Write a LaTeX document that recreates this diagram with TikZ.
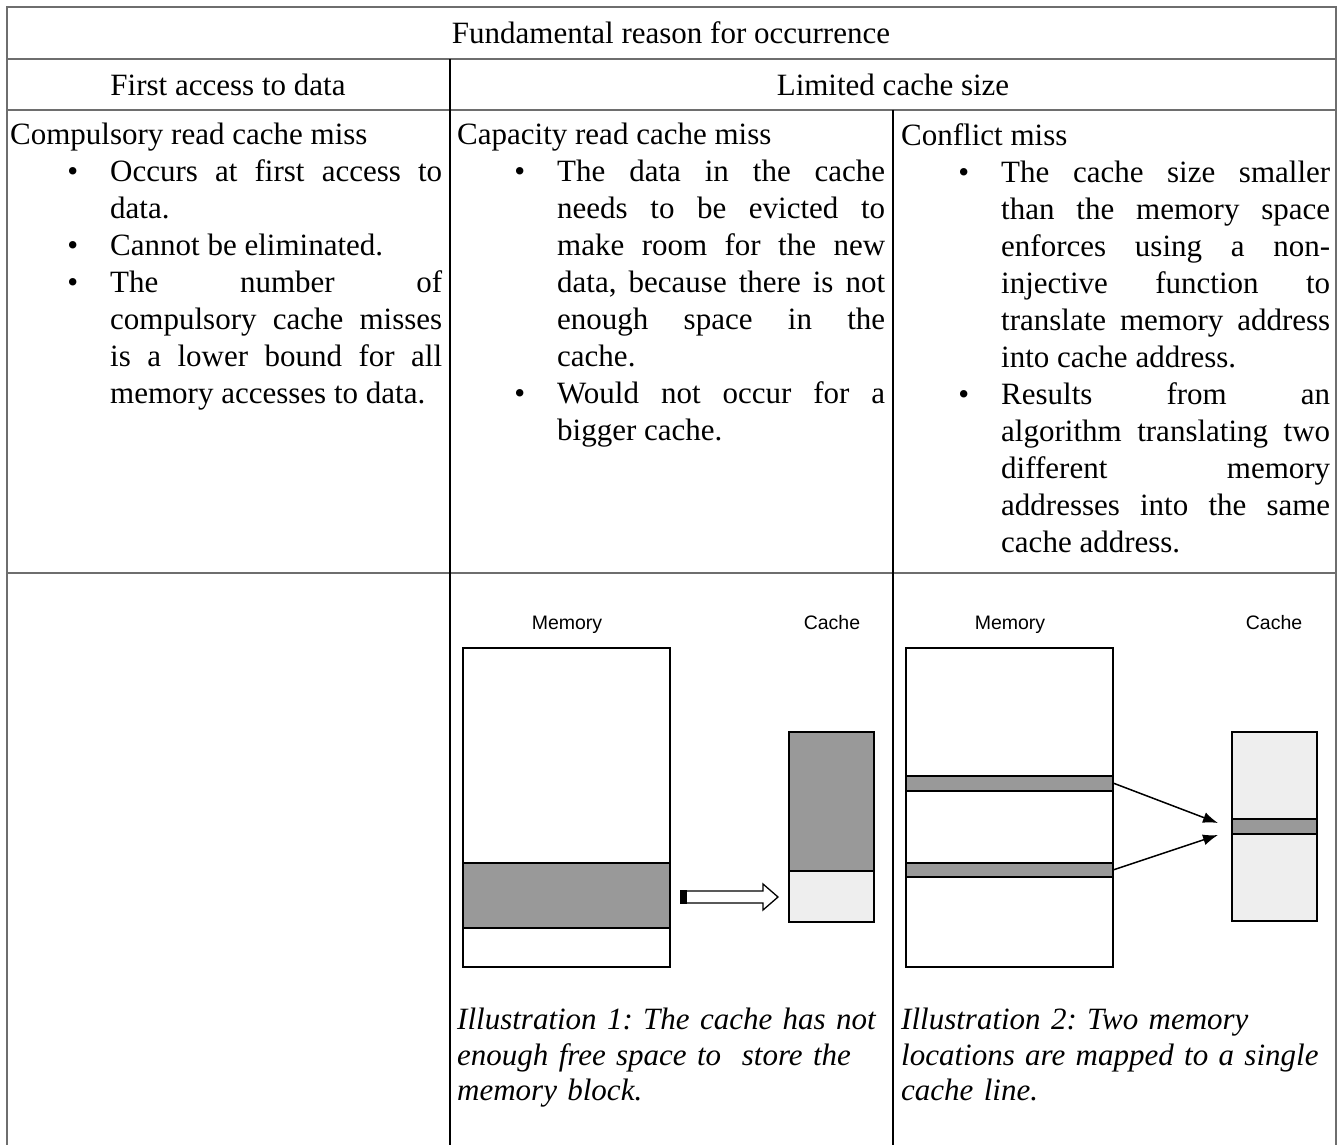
\documentclass[tikz,border=0pt]{standalone}
\usepackage{fontspec}
\setmainfont{Liberation Serif}
\setsansfont{Liberation Sans}
\usetikzlibrary{arrows.meta}

\definecolor{rulegray}{HTML}{6E6E6E}
\definecolor{blockgray}{HTML}{999999}
\definecolor{freegray}{HTML}{EEEEEE}

\newcommand{\bodyfont}{\fontsize{31}{37}\selectfont\frenchspacing}
\newcommand{\capfont}{\fontsize{31}{35.6}\selectfont\frenchspacing\itshape}
\newcommand{\figfont}{\sffamily\fontsize{19.5}{22}\selectfont}
\newenvironment{missbullets}{%
  \begin{list}{\textbullet}{\setlength{\leftmargin}{100pt}%
    \setlength{\labelwidth}{20pt}\setlength{\labelsep}{32pt}%
    \setlength{\itemsep}{0pt}\setlength{\parsep}{0pt}%
    \setlength{\topsep}{0pt}\setlength{\partopsep}{0pt}}%
  \tolerance=10000\hbadness=10000}{\end{list}}

\begin{document}
\begin{tikzpicture}[x=1pt,y=-1pt,
  rule/.style={line width=1.6pt,draw=rulegray},
  colrule/.style={line width=1.6pt,draw=black},
  headtext/.style={inner sep=0pt,font=\bodyfont},
  celltext/.style={anchor=north west,inner sep=0pt,align=justify,font=\bodyfont},
  captext/.style={anchor=north west,inner sep=0pt,align=left,text width=430pt,font=\capfont},
  figlabel/.style={anchor=base,inner sep=0pt,font=\figfont},
  box/.style={draw=black,line width=1.4pt},
  maparrow/.style={line width=1.5pt,-{Latex[length=15pt,width=11pt]}}]
\useasboundingbox (0,0) rectangle (1341,1145);

% table rules
\draw[rule] (7,1145) -- (7,7) -- (1336,7) -- (1336,1145);
\draw[rule] (7,59) -- (1336,59);
\draw[rule] (7,110) -- (1336,110);
\draw[rule] (7,573) -- (1336,573);
\draw[colrule] (450,59) -- (450,1145);
\draw[colrule] (893,110) -- (893,1145);

% header rows
\node[headtext] (reason) at (671,33) {Fundamental reason for occurrence};
\node[headtext] (firstacc) at (228,85) {First access to data};
\node[headtext] (limited) at (893,85) {Limited cache size};

% kinds of misses
\node[celltext,text width=432pt] (compulsory) at (10,123) {Compulsory read cache miss
\begin{missbullets}
\item Occurs at first access to\linebreak data.
\item Cannot be eliminated.
\item The number of\linebreak compulsory cache misses\linebreak is a lower bound for all\linebreak memory accesses to data.
\end{missbullets}};
\node[celltext,text width=428pt] (capacity) at (457,123) {Capacity read cache miss
\begin{missbullets}
\item The data in the cache\linebreak needs to be evicted to\linebreak make room for the new\linebreak data, because there is not\linebreak enough space in the\linebreak cache.
\item Would not occur for a\linebreak bigger cache.
\end{missbullets}};
\node[celltext,text width=429pt] (conflict) at (901,123) {Conflict miss
\begin{missbullets}
\item The cache size smaller\linebreak than the memory space\linebreak enforces using a non-\linebreak injective function to\linebreak translate memory address\linebreak into cache address.
\item Results from an\linebreak algorithm translating two\linebreak different memory\linebreak addresses into the same\linebreak cache address.
\end{missbullets}};

% illustration 1
\node[figlabel] (memone) at (567,629) {Memory};
\node[figlabel] (cacheone) at (832,629) {Cache};
\draw[box,fill=white] (463,648) rectangle (670,967);
\draw[box,fill=blockgray] (463,863) rectangle (670,928);
\draw[box,fill=blockgray] (789,732) rectangle (874,871);
\draw[box,fill=freegray] (789,871) rectangle (874,922);
\draw[line width=1.3pt,fill=white] (685,891) -- (763,891) -- (763,884) -- (778,897)
  -- (763,910) -- (763,903) -- (685,903) -- cycle;
\fill (680,890) rectangle (687,904);
\node[captext] (capone) at (457,1008) {Illustration 1: The cache has not\\
enough free space to\ \ store the\\ memory block.};

% illustration 2
\node[figlabel] (memtwo) at (1010,629) {Memory};
\node[figlabel] (cachetwo) at (1274,629) {Cache};
\draw[box,fill=white] (906,648) rectangle (1113,967);
\draw[box,fill=blockgray] (906,776) rectangle (1113,791);
\draw[box,fill=blockgray] (906,863) rectangle (1113,877);
\draw[box,fill=freegray] (1232,732) rectangle (1317,921);
\draw[box,fill=blockgray] (1232,819) rectangle (1317,834);
\coordinate (stripea) at (1113,783);
\coordinate (stripeb) at (1113,870);
\coordinate (tipa) at (1218,823);
\coordinate (tipb) at (1218,835);
\draw[maparrow] (stripea) -- (tipa);
\draw[maparrow] (stripeb) -- (tipb);
\node[captext] (captwo) at (901,1008) {Illustration 2: Two memory\\
locations are mapped to a single\\ cache line.};
\end{tikzpicture}
\end{document}
